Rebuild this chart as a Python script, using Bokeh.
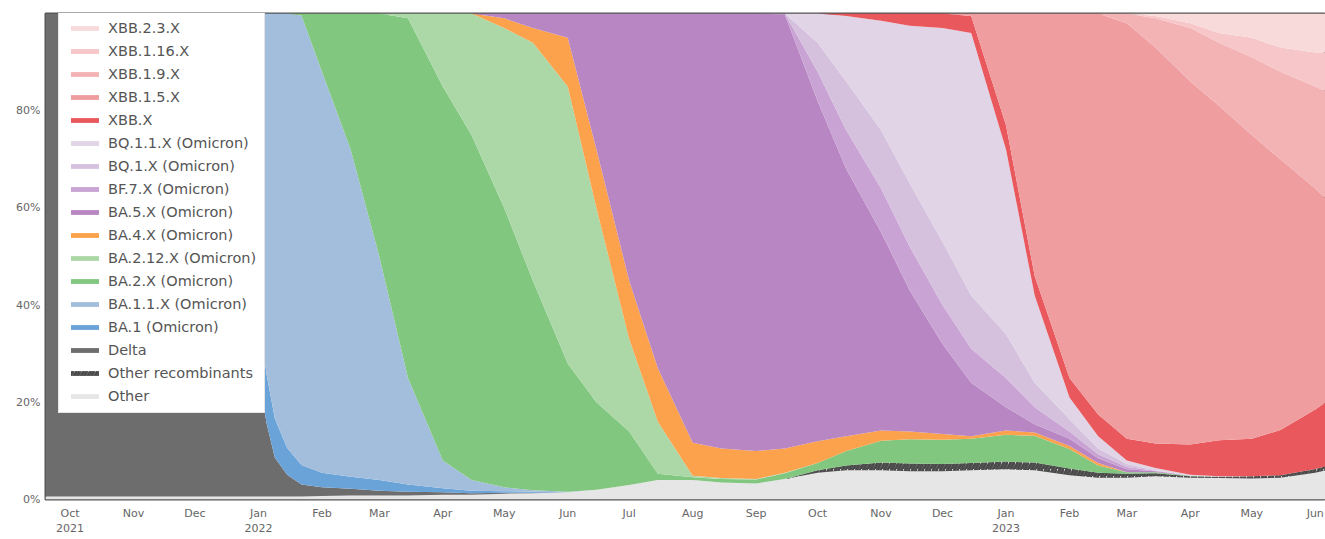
import numpy as np
import pandas as pd
from bokeh.plotting import figure
from bokeh.models import ColumnDataSource, Legend, LegendItem, FixedTicker, Range1d
from bokeh.embed import file_html
from bokeh.resources import INLINE

dates = ["2021-09-19", "2021-10-01", "2021-10-15", "2021-11-01", "2021-11-15", "2021-12-01",
         "2021-12-08", "2021-12-15", "2021-12-22", "2021-12-27", "2022-01-01", "2022-01-05",
         "2022-01-09", "2022-01-15", "2022-01-22", "2022-02-01", "2022-02-15", "2022-03-01",
         "2022-03-15", "2022-04-01", "2022-04-15", "2022-05-01", "2022-05-15", "2022-06-01",
         "2022-06-15", "2022-07-01", "2022-07-15", "2022-08-01", "2022-08-15", "2022-09-01",
         "2022-09-15", "2022-10-01", "2022-10-15", "2022-11-01", "2022-11-15", "2022-12-01",
         "2022-12-15", "2023-01-01", "2023-01-15", "2023-02-01", "2023-02-15", "2023-03-01",
         "2023-03-15", "2023-04-01", "2023-04-15", "2023-05-01", "2023-05-15", "2023-06-01",
         "2023-06-06"]

# shares in percent, bottom of the stack first
other = [0.6, 0.6, 0.6, 0.6, 0.6, 0.6, 0.6, 0.6, 0.6, 0.6, 0.6, 0.6, 0.6, 0.6, 0.6, 0.7, 0.8, 0.8,
         0.8, 1.0, 1.0, 1.2, 1.3, 1.5, 2.0, 3.0, 4.0, 4.0, 3.5, 3.3, 4.2, 5.5, 6.0, 6.0, 5.8, 5.8,
         6.0, 6.2, 6.0, 5.0, 4.5, 4.5, 4.8, 4.5, 4.4, 4.3, 4.5, 5.5, 6.0]
other_recomb = [0]*31 + [0.5, 1.0, 1.6, 1.6, 1.5, 1.5, 1.6, 1.6, 1.4, 1.0, 0.8, 0.6, 0.3, 0.3, 0.5,
                         0.5, 0.8, 0.8]
delta = [99.4, 99.4, 99.4, 99.4, 99.4, 99.4, 97.0, 90.0, 70.0, 45.0, 25.0, 15.0, 8.0, 4.5, 2.5,
         1.8, 1.4, 1.0, 0.8, 0.5, 0.3, 0.2, 0.1] + [0]*26
ba1 = [0, 0, 0, 0, 0, 0, 1.0, 3.0, 10.0, 12.0, 12.0, 10.0, 8.0, 5.5, 4.0, 3.0, 2.5, 2.2, 1.5, 0.8,
       0.5, 0.3, 0.2] + [0]*26
ba11 = [0, 0, 0, 0, 0, 0, 1.4, 6.4, 19.4, 42.4, 62.4, 74.4, 83.4, 89.4, 92.5, 82.5, 67.3, 46.0,
        21.9, 5.7, 2.2, 0.8, 0.3, 0.1] + [0]*25
ba2 = [0]*14 + [0.4, 12.0, 28.0, 50.0, 74.0, 77.0, 71.0, 57.5, 43.1, 26.4, 18.0, 11.0, 1.3, 0.6,
                0.7, 0.8, 1.2, 1.5, 3.0, 4.5, 5.0, 5.0, 5.0, 5.5, 5.5, 4.0, 1.5, 0.3, 0.2, 0.1,
                0, 0, 0, 0, 0]
ba212 = [0]*18 + [1.0, 15.0, 25.0, 37.0, 49.0, 57.0, 40.0, 19.0, 10.7, 0.3, 0.2, 0.1, 0.1] + [0]*18
ba4 = [0]*21 + [2.0, 3.0, 10.0, 12.0, 12.0, 11.0, 6.8, 6.1, 5.8, 5.0, 4.5, 3.0, 2.1, 1.6, 1.2,
                0.5, 0.9, 0.7, 0.6, 0.5] + [0]*8
ba5 = [0]*21 + [1.0, 3.0, 5.0, 28.0, 55.0, 73.0, 88.3, 89.5, 90.0, 89.3, 70.0, 55.0, 40.8, 29.0,
                18.5, 11.0, 4.8, 1.7, 1.5, 1.0, 0.6, 0.2, 0, 0, 0, 0, 0, 0]
bf7 = [0]*30 + [0.2, 6.0, 8.0, 9.0, 9.0, 8.0, 7.0, 6.0, 3.5, 1.5, 0.8, 0.5, 0.1, 0, 0, 0, 0, 0, 0]
bq1 = [0]*31 + [6.0, 10.0, 12.0, 13.0, 13.0, 11.0, 9.0, 5.0, 2.5, 1.2, 0.6, 0.1, 0, 0, 0, 0, 0, 0]
bq11 = [0]*31 + [6.0, 13.5, 22.5, 32.5, 44.0, 54.0, 38.0, 18.0, 4.5, 2.5, 0.7, 0.5, 0.2, 0.1, 0,
                 0, 0, 0]
xbb = [0]*32 + [0.5, 1.5, 2.5, 3.0, 3.5, 5.0, 4.0, 4.0, 4.5, 4.5, 5.0, 6.2, 7.4, 7.7, 9.3, 12.2,
                13.2]
xbb15 = [0]*36 + [0.5, 23.0, 54.0, 75.0, 82.5, 85.5, 81.5, 74.7, 68.8, 62.5, 55.7, 45.5, 42.0]
xbb19 = [0]*41 + [2.0, 6.0, 11.0, 13.0, 16.0, 18.0, 21.0, 22.0]
xbb116 = [0]*42 + [0.5, 1.0, 2.0, 4.0, 5.0, 7.0, 8.0]
xbb23 = [0]*42 + [0.5, 2.0, 4.0, 5.0, 7.0, 8.0, 8.0]

names = ["Other", "Other recombinants", "Delta", "BA.1 (Omicron)", "BA.1.1.X (Omicron)",
         "BA.2.X (Omicron)", "BA.2.12.X (Omicron)", "BA.4.X (Omicron)", "BA.5.X (Omicron)",
         "BF.7.X (Omicron)", "BQ.1.X (Omicron)", "BQ.1.1.X (Omicron)", "XBB.X", "XBB.1.5.X",
         "XBB.1.9.X", "XBB.1.16.X", "XBB.2.3.X"]
colors = ["#e6e6e6", "#d8d8d8", "#6d6d6d", "#6aa3d8", "#a3bddd", "#82c77f", "#acd8a8", "#fca24c",
          "#b886c2", "#c9a3d3", "#d5c0de", "#e0d4e6", "#e9585c", "#ef9d9f", "#f3b3b5", "#f6c6c8",
          "#f8dadb"]
series = [other, other_recomb, delta, ba1, ba11, ba2, ba212, ba4, ba5, bf7, bq1, bq11, xbb,
          xbb15, xbb19, xbb116, xbb23]

month_ticks = ["2021-10-01", "2021-11-01", "2021-12-01", "2022-01-01", "2022-02-01", "2022-03-01",
               "2022-04-01", "2022-05-01", "2022-06-01", "2022-07-01", "2022-08-01", "2022-09-01",
               "2022-10-01", "2022-11-01", "2022-12-01", "2023-01-01", "2023-02-01", "2023-03-01",
               "2023-04-01", "2023-05-01", "2023-06-01"]
month_labels = ["Oct\n2021", "Nov", "Dec", "Jan\n2022", "Feb", "Mar", "Apr", "May", "Jun", "Jul",
                "Aug", "Sep", "Oct", "Nov", "Dec", "Jan\n2023", "Feb", "Mar", "Apr", "May", "Jun"]

origin = pd.Timestamp("2021-10-01")
x = np.array([(pd.Timestamp(d) - origin).days for d in dates], dtype=float)
vals = np.array(series, dtype=float)
vals = vals / vals.sum(axis=0) * 100.0
tops = np.cumsum(vals, axis=0)
bottoms = tops - vals

data = {"x": x}
for i in range(len(names)):
    data[f"b{i}"] = bottoms[i]
    data[f"t{i}"] = tops[i]
src = ColumnDataSource(data)

p = figure(width=1325, height=539, output_backend="svg", toolbar_location=None,
           x_range=Range1d(x[0], x[-1]), y_range=Range1d(0, 100),
           min_border_left=45, min_border_right=0, min_border_top=13, min_border_bottom=40)

renderers = []
for i, nm in enumerate(names):
    kw = {}
    if nm == "Other recombinants":
        kw = dict(hatch_pattern="/", hatch_color="#4a4a4a", hatch_scale=7, hatch_weight=3)
    r = p.varea(x="x", y1=f"b{i}", y2=f"t{i}", source=src, fill_color=colors[i], **kw)
    renderers.append(r)

items = [LegendItem(label=names[i], renderers=[renderers[i]]) for i in reversed(range(len(names)))]
legend = Legend(items=items, location=(13, 86), glyph_width=35, glyph_height=6, label_height=17,
                spacing=6, padding=8, label_text_font="DejaVu Sans", label_text_font_size="14.5px",
                label_text_color="#555555", background_fill_color="white", background_fill_alpha=1,
                border_line_color="#cccccc", label_standoff=6)
p.add_layout(legend, "center")

tick_days = [(pd.Timestamp(d) - origin).days for d in month_ticks]
p.xaxis.ticker = FixedTicker(ticks=tick_days)
p.xaxis.major_label_overrides = {t: lab for t, lab in zip(tick_days, month_labels)}
p.yaxis.ticker = FixedTicker(ticks=[0, 20, 40, 60, 80])
p.yaxis.major_label_overrides = {0: "0%", 20: "20%", 40: "40%", 60: "60%", 80: "80%"}

for ax in (p.xaxis, p.yaxis):
    ax.axis_line_color = None
    ax.major_tick_line_color = None
    ax.minor_tick_line_color = None
    ax.major_tick_out = 0
    ax.major_tick_in = 0
    ax.minor_tick_out = 0
    ax.major_label_text_font = "DejaVu Sans"
    ax.major_label_text_font_size = "11px"
    ax.major_label_text_color = "#666666"
p.xaxis.major_label_standoff = 7
p.yaxis.major_label_standoff = 5

p.xgrid.visible = False
p.ygrid.visible = False
p.outline_line_color = "#555555"
p.outline_line_width = 2
p.background_fill_color = "white"

open("out.html", "w").write(file_html(p, INLINE))
